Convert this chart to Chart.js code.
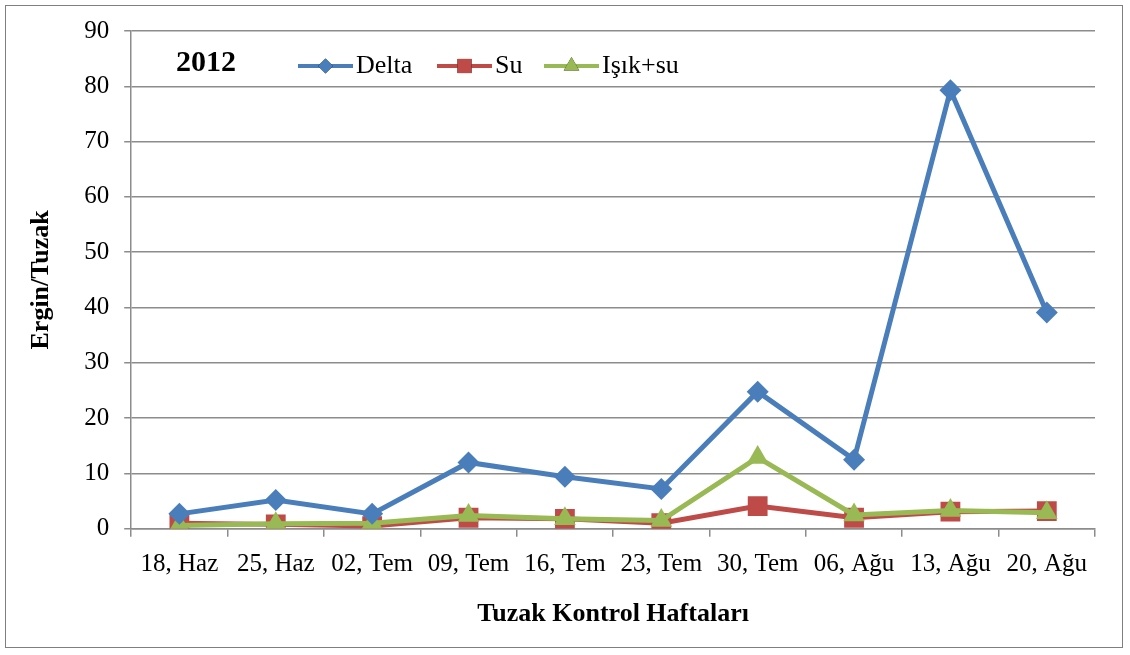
<!DOCTYPE html>
<html>
<head>
<meta charset="utf-8">
<script src="https://cdn.jsdelivr.net/npm/chart.js@4"></script>
<style>
  html, body { margin: 0; padding: 0; background: #fff; }
  #wrap { position: relative; width: 1130px; height: 655px; }
  #frame { position: absolute; left: 5px; top: 5px; width: 1118px; height: 643px; border: 1.5px solid #7f7f7f; box-sizing: border-box; pointer-events: none; }
</style>
</head>
<body>
<div id="wrap">
  <canvas id="chart" width="1130" height="655"></canvas>
  <div id="frame"></div>
</div>
<script>
// weeks
const weeks = ['18, Haz', '25, Haz', '02, Tem', '09, Tem', '16, Tem', '23, Tem', '30, Tem', '06, Ağu', '13, Ağu', '20, Ağu'];
const delta = [2.7, 5.2, 2.7, 12.0, 9.4, 7.2, 24.8, 12.5, 79.3, 39.1];
const su = [1.0, 0.8, 0.5, 2.0, 1.8, 1.0, 4.1, 2.0, 3.1, 3.2];
const isikSu = [0.6, 0.9, 1.0, 2.4, 1.8, 1.5, 12.9, 2.5, 3.3, 2.9];
const yearLabel = '2012';

const serif = "'Liberation Serif', 'Times New Roman', serif";
const colDelta = '#4A7EBB', colSu = '#BE4B48', colIsik = '#98B954';

// draws the legend inside the plot like the original
const legendPlugin = {
  id: 'inlineLegend',
  afterDraw(chart) {
    const ctx = chart.ctx;
    const y = 66;
    ctx.save();
    ctx.fillStyle = '#000';
    ctx.font = 'bold 30px ' + serif;
    ctx.textBaseline = 'middle';
    ctx.fillText(yearLabel, 176, y - 3);
    const items = [
      { x: 298, text: 'Delta', ds: 0, r: 7.5 },
      { x: 437, text: 'Su', ds: 1, r: 10 },
      { x: 544, text: 'Işık+su', ds: 2, r: 9 }
    ];
    items.forEach(it => {
      const ds = chart.data.datasets[it.ds];
      ctx.strokeStyle = ds.borderColor;
      ctx.lineWidth = 4;
      ctx.beginPath();
      ctx.moveTo(it.x, y);
      ctx.lineTo(it.x + 55, y);
      ctx.stroke();
      Chart.helpers.drawPoint(ctx, {
        pointStyle: ds.pointStyle,
        radius: it.r,
        rotation: 0,
        borderWidth: 0
      }, it.x + 27.5, y);
      ctx.fillStyle = ds.backgroundColor;
      ctx.fill();
      ctx.fillStyle = '#000';
      ctx.font = '26px ' + serif;
      ctx.fillText(it.text, it.x + 58, y);
    });
    ctx.restore();
  }
};

new Chart(document.getElementById('chart'), {
  type: 'line',
  data: {
    labels: weeks,
    datasets: [
      { label: 'Delta', data: delta, order: 0, borderColor: colDelta, backgroundColor: colDelta, borderWidth: 5, pointStyle: 'rectRot', pointRadius: 11, pointBorderWidth: 0, tension: 0 },
      { label: 'Su', data: su, order: 2, borderColor: colSu, backgroundColor: colSu, borderWidth: 5, pointStyle: 'rect', pointRadius: 14, pointBorderWidth: 0, tension: 0 },
      { label: 'Işık+su', data: isikSu, order: 1, borderColor: colIsik, backgroundColor: colIsik, borderWidth: 5, pointStyle: 'triangle', pointRadius: 12.5, pointBorderWidth: 0, tension: 0 }
    ]
  },
  options: {
    responsive: false,
    animation: false,
    layout: { padding: { left: 26, top: 31, right: 35, bottom: 25 } },
    plugins: {
      legend: { display: false },
      tooltip: { enabled: false }
    },
    scales: {
      x: {
        offset: true,
        grid: { offset: true, drawOnChartArea: false, color: '#8c8c8c', lineWidth: 1.5, tickLength: 8 },
        border: { color: '#8c8c8c', width: 1.5 },
        ticks: { color: '#000', font: { family: serif, size: 25 }, maxRotation: 0, autoSkip: false, padding: 13 },
        title: { display: true, text: 'Tuzak Kontrol Haftaları', color: '#000', font: { family: serif, size: 26, weight: 'bold' }, padding: { top: 6, bottom: 0 } }
      },
      y: {
        min: 0, max: 90,
        ticks: { stepSize: 10, color: '#000', font: { family: serif, size: 25 }, padding: 15 },
        grid: { color: '#8c8c8c', lineWidth: 1.5, tickLength: 7 },
        border: { color: '#8c8c8c', width: 1.5 },
        title: { display: true, text: 'Ergin/Tuzak', color: '#000', font: { family: serif, size: 26, weight: 'bold' }, padding: { top: 0, bottom: 12 } }
      }
    }
  },
  plugins: [legendPlugin]
});
</script>
</body>
</html>
